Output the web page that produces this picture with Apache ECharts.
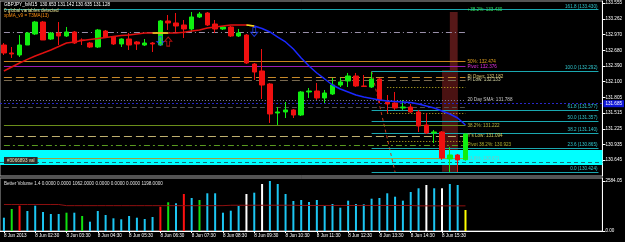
<!DOCTYPE html>
<html>
<head>
<meta charset="utf-8">
<script src="https://cdn.jsdelivr.net/npm/echarts@6.0.0/dist/echarts.min.js"></script>
<style>
html, body { margin: 0; padding: 0; background: #000; }
#chart { width: 625px; height: 242px; }
</style>
</head>
<body>
<div id="chart"></div>
<script>
// GBPJPY M15 bars, 8 Jun 01:30 .. 16:15
const opens = [
  132.777, 132.629, 132.592, 132.777, 132.981, 133.203, 132.888, 132.999, 132.944, 133.018,
  132.870, 132.814, 132.740, 133.036, 132.925, 132.796, 132.888, 132.833, 132.777, 132.814,
  132.777, 133.222, 133.185, 133.148, 133.074, 133.296, 133.370, 133.166, 133.074, 133.111,
  132.944, 132.962, 132.425, 132.296, 132.055, 131.518, 131.537, 131.574, 131.481, 131.907,
  131.925, 131.796, 131.870, 132.036, 132.111, 132.203, 132.018, 131.999, 132.148, 131.722,
  131.703, 131.611, 131.629, 131.537, 131.296, 131.148, 131.166, 130.666, 130.740, 130.653
];
const closes = [
  132.629, 132.611, 132.777, 132.999, 133.203, 132.870, 132.999, 132.944, 133.018, 132.814,
  132.860, 132.740, 133.055, 132.925, 132.796, 132.888, 132.777, 132.796, 132.814, 132.796,
  133.222, 133.185, 133.129, 133.074, 133.296, 133.351, 133.148, 133.074, 133.111, 132.944,
  132.999, 132.444, 132.277, 132.036, 131.500, 131.537, 131.574, 131.481, 131.907, 131.925,
  131.796, 131.888, 132.036, 132.092, 132.203, 132.018, 132.010, 132.148, 131.759, 131.685,
  131.611, 131.629, 131.537, 131.277, 131.148, 131.166, 130.685, 130.740, 130.648, 131.128
];
const lows = [
  132.592, 132.537, 132.555, 132.777, 132.962, 132.870, 132.870, 132.777, 132.925, 132.796,
  132.777, 132.722, 132.722, 132.906, 132.777, 132.740, 132.685, 132.685, 132.759, 132.648,
  132.759, 133.055, 133.018, 132.907, 133.018, 133.277, 133.129, 132.999, 133.055, 132.925,
  132.925, 132.425, 132.129, 131.777, 131.333, 131.296, 131.425, 131.425, 131.462, 131.796,
  131.759, 131.703, 131.851, 131.999, 131.999, 132.000, 131.999, 131.981, 131.703, 131.518,
  131.574, 131.574, 131.518, 131.166, 131.129, 130.962, 130.648, 130.425, 130.425, 130.635
];
const highs = [
  132.814, 132.740, 132.962, 133.018, 133.222, 133.222, 133.018, 133.203, 133.111, 133.036,
  132.900, 132.833, 133.074, 133.055, 132.944, 132.900, 132.999, 132.851, 132.888, 132.833,
  133.240, 133.333, 133.370, 133.240, 133.388, 133.388, 133.388, 133.240, 133.129, 133.129,
  133.074, 132.981, 132.444, 132.703, 132.074, 131.629, 131.722, 131.590, 131.925, 131.981,
  132.074, 131.944, 132.166, 132.166, 132.259, 132.259, 132.222, 132.277, 132.166, 131.851,
  131.907, 131.759, 131.685, 131.574, 131.518, 131.203, 131.185, 130.888, 130.759, 131.142
];
// xpMA (T3MA 13)
const maValues = [
  132.296, 132.370, 132.444, 132.510, 132.574, 132.629, 132.685, 132.750, 132.814, 132.833,
  132.860, 132.880, 132.897, 132.916, 132.935, 132.953, 132.962, 132.981, 132.999, 132.999,
  132.999, 132.999, 132.999, 133.012, 133.036, 133.055, 133.092, 133.110, 133.129, 133.148,
  133.148, 133.148, 133.129, 133.083, 133.018, 132.925, 132.833, 132.703, 132.537, 132.388,
  132.259, 132.148, 132.036, 131.962, 131.907, 131.851, 131.814, 131.787, 131.759, 131.740,
  131.731, 131.722, 131.712, 131.685, 131.648, 131.611, 131.555, 131.500, 131.425, 131.296
];
const maFlatBars = [19, 20, 21, 31, 32];
const maTurnBar = 32;
// Better Volume
const volumes = [
  688, 1137, 1308, 1034, 1308, 982, 879, 879, 946, 946,
  776, 481, 1034, 827, 657, 605, 776, 688, 620, 724,
  1256, 1484, 1432, 1913, 1706, 1603, 1949, 1949, 946, 1050,
  1293, 1913, 1980, 2430, 2584, 2430, 1913, 1551, 1603, 1499,
  1603, 1293, 1396, 1205, 1567, 1396, 1380, 1670, 1706, 1949,
  1773, 1567, 2016, 2208, 2378, 2208, 2208, 2430, 2378, 1086
];
// n normal, u climax up, c churn, d climax down, l low volume
const volKinds = [
  'n', 'c', 'u', 'n', 'n', 'n', 'n', 'n', 'c', 'n',
  'c', 'n', 'n', 'n', 'n', 'n', 'n', 'n', 'n', 'n',
  'u', 'c', 'n', 'u', 'n', 'c', 'n', 'n', 'n', 'n',
  'n', 'd', 'n', 'd', 'n', 'n', 'n', 'n', 'n', 'n',
  'n', 'n', 'n', 'n', 'n', 'n', 'n', 'n', 'n', 'n',
  'n', 'n', 'n', 'n', 'd', 'n', 'd', 'n', 'n', 'l'
];
const volAverage = [
  1370, 1370, 1370, 1370, 1370, 1370, 1370, 1370, 1310, 1310,
  1310, 1310, 1310, 1310, 1310, 1310, 1310, 1310, 1310, 1310,
  1310, 1310, 1310, 1310, 1310, 1310, 1310, 1310, 1310, 1330,
  1330, 1330, 1330, 1330, 1330, 1330, 1330, 1330, 1320, 1320,
  1320, 1320, 1320, 1320, 1320, 1320, 1320, 1320, 1320, 1320,
  1320, 1320, 1320, 1300, 1300, 1300, 1300, 1300, 1300, 1300
];

const priceTicks = [133.555, 133.262, 132.970, 132.680, 132.390, 132.100, 131.805, 131.515, 131.225, 130.935, 130.645, 130.350];
const volTicks = [2584.05, 0];
const timeTicks = [
  '8 Jun 2013', '8 Jun 02:30', '8 Jun 03:30', '8 Jun 04:30', '8 Jun 05:30', '8 Jun 06:30', '8 Jun 07:30',
  '8 Jun 08:30', '8 Jun 09:30', '8 Jun 10:30', '8 Jun 11:30', '8 Jun 12:30', '8 Jun 13:30', '8 Jun 14:30', '8 Jun 15:30'
];

// fibonacci retracement drawn from bar 47 to bar 50
const fibPrices = [133.430, 132.292, 131.577, 131.357, 131.140, 130.865, 130.424];
const fibTexts = ['161.8 (133.430)', '100.0 (132.292)', '61.8 (131.577)', '50.0 (131.357)', '38.2 (131.140)', '23.6 (130.865)', '0.0 (130.424)'];
// daily levels ending at the last bar
const levelPrices = [133.430, 133.018, 132.474, 132.376, 132.182, 132.133, 131.759, 131.629, 131.287, 131.094, 130.923, 130.671];
const levelTexts = ['+38.2%: 133.430', '', '50%: 132.474', 'Pivot: 132.376', 'Pi Open: 132.182', 'Pi Low: 132.133',
  '20 Day SMA: 131.788', '', '38.2%: 131.222', "Y's Low: 131.094", 'Pivot 38.2%: 130.923', '61.8%: 130.671'];
const dotPrices = [131.999, 131.518, 131.000];
const zonePrices = [130.833, 130.555];
const smaLinePrice = 131.685;
const lowerDashPrice = 130.611;
const bidPrice = 131.128;
const boxPrices = [[133.388, 130.425], [132.314, 130.43]];
const arrowsDown = [[20, 132.85], [32, 133.018]];
const arrowsUp = [[21, 132.84]];

const SLOTS = 77;
const cats = [];
for (let i = 0; i < SLOTS; i++) {
  const m = 90 + i * 15;
  cats.push(String(Math.floor(m / 60)).padStart(2, '0') + ':' + String(m % 60).padStart(2, '0'));
}
const LAST = opens.length - 1;
const FONT = 'Liberation Sans';
const FS = 4.6;

const candles = opens.map((o, i) => [o, closes[i], lows[i], highs[i]]);
const maRed = maValues.map((v, i) => (i <= maTurnBar ? v : null));
const maBlue = maValues.map((v, i) => (i >= maTurnBar ? v : null));
const maYellow = maValues.map((v, i) => (maFlatBars.includes(i) ? v : null));
const volColors = { n: '#1cc6f2', u: '#ff1010', c: '#10e010', d: '#ffffff', l: '#ffff00' };
const volData = volumes.map((v, i) => ({ value: v, itemStyle: { color: volColors[volKinds[i]] } }));

// styles of the level lines, same order as levelPrices
const levelStyles = [
  { c: 'rgba(0,0,0,0)', t: 'solid', tc: '#30e060' },
  { c: '#9a90aa', t: [6, 3, 1, 3], tc: '#fff' },
  { c: '#c8841c', t: 'solid', tc: '#e0a020' },
  { c: '#9a1cb0', t: 'solid', tc: '#e030e0' },
  { c: '#c88a2a', t: [8, 4], tc: '#d8c870' },
  { c: '#7a6a50', t: [8, 4], tc: '#d0d0a0' },
  { c: '#8080a8', t: [1, 2], tc: '#c8c8c8' },
  { c: '#505050', t: [5, 3], tc: '#fff' },
  { c: '#6a8e1a', t: 'solid', tc: '#b8b840' },
  { c: '#c0b070', t: [8, 4], tc: '#d0d060' },
  { c: '#5a9a20', t: [6, 3, 2, 3], tc: '#b0b030' },
  { c: '#a0a040', t: 'solid', tc: '#80c0c0' }
];

const levelLines = levelPrices.map((p, i) => {
  const s = levelStyles[i];
  return [
    {
      coord: [0, p],
      lineStyle: { color: s.c, type: s.t, width: 1 },
      label: {
        show: levelTexts[i] !== '',
        position: 'end',
        distance: 2,
        padding: [6, 0, 0, 0],
        formatter: levelTexts[i],
        color: s.tc,
        fontSize: FS,
        fontFamily: FONT
      }
    },
    { coord: [LAST, p] }
  ];
});
// the 161.8 level runs across the whole chart, the others start at the swing bar
const fibLines = fibPrices.map((p, i) => [
  {
    coord: [i === 0 ? 0 : 47, p],
    lineStyle: { color: '#1aa8b0', type: 'solid', width: 1 },
    label: { show: true, position: 'insideEndTop', distance: 1, formatter: fibTexts[i], color: '#30c8d0', fontSize: FS, fontFamily: FONT }
  },
  { coord: [SLOTS - 1, p] }
]);
const dotLines = dotPrices.map(p => [
  { coord: [49, p], lineStyle: { color: '#c8b820', type: [1, 2], width: 1 }, label: { show: false } },
  { coord: [LAST, p] }
]);

const arrowPath = 'path://M3,0 L7,0 L7,6 L10,6 L5,11 L0,6 L3,6 Z';

const option = {
  backgroundColor: '#000',
  animation: false,
  title: [
    { text: 'GBPJPY_fxM15  130.653 131.142 130.635 131.128', left: 4, top: 2, padding: 0,
      textStyle: { color: '#ffffff', fontSize: FS, fontWeight: 'normal', fontFamily: FONT } },
    { text: '0 global variables detected', left: 4, top: 8, padding: 0,
      textStyle: { color: '#e8e090', fontSize: FS, fontWeight: 'normal', fontFamily: FONT } },
    { text: 'xpMA_v9 = T3MA(13)', left: 4, top: 13, padding: 0,
      textStyle: { color: '#ff9010', fontSize: FS, fontWeight: 'normal', fontFamily: FONT } },
    { text: 'Better Volume 1.4 0.0000 0.0000 1062.0000 0.0000 0.0000 0.0000 1198.0000', left: 4, top: 181, padding: 0,
      textStyle: { color: '#e0e0e0', fontSize: FS, fontWeight: 'normal', fontFamily: FONT } }
  ],
  graphic: [
    { type: 'text', left: 4, top: 157, z: 50,
      style: { text: '#3066893 val', fill: '#e8e0b0', font: FS + 'px ' + FONT, backgroundColor: '#2a2a2a', padding: [1, 3] } }
  ],
  grid: [
    { left: 0, right: 21, top: 1, height: 175, show: true, borderColor: '#a8a8a8', borderWidth: 1, backgroundColor: '#000' },
    { left: 0, right: 21, top: 178, height: 53, show: true, borderColor: '#a8a8a8', borderWidth: 1, backgroundColor: '#000' }
  ],
  xAxis: [
    { type: 'category', data: cats, gridIndex: 0, boundaryGap: true,
      axisLine: { show: false }, axisTick: { show: false }, axisLabel: { show: false }, splitLine: { show: false } },
    { type: 'category', data: cats, gridIndex: 1, boundaryGap: true,
      axisLine: { show: true, lineStyle: { color: '#ffffff', width: 1 } },
      axisTick: { show: true, alignWithLabel: true, length: 2, lineStyle: { color: '#fff' },
        interval: (i) => i % 4 === 0 && i <= LAST },
      axisLabel: { color: '#ffffff', fontSize: FS, fontFamily: FONT, align: 'left', margin: 2,
        interval: (i) => i % 4 === 0 && i <= LAST,
        formatter: (v, i) => (i % 4 === 0 && i <= LAST ? timeTicks[i / 4] : '') },
      splitLine: { show: false } }
  ],
  yAxis: [
    { type: 'value', gridIndex: 0, position: 'right', min: 130.351, max: 133.592, scale: true,
      axisLine: { show: true, lineStyle: { color: '#ffffff' } },
      axisTick: { show: true, length: 3, inside: false, customValues: priceTicks, lineStyle: { color: '#fff' } },
      axisLabel: { color: '#ffffff', fontSize: FS, fontFamily: FONT, margin: 3, customValues: priceTicks,
        formatter: v => v.toFixed(3) },
      splitLine: { show: false } },
    { type: 'value', gridIndex: 1, position: 'right', min: 0, max: 2739,
      axisLine: { show: true, lineStyle: { color: '#ffffff' } },
      axisTick: { show: true, length: 3, customValues: volTicks, lineStyle: { color: '#fff' } },
      axisLabel: { color: '#ffffff', fontSize: FS, fontFamily: FONT, margin: 3, customValues: volTicks,
        formatter: v => v.toFixed(2) },
      splitLine: { show: false } }
  ],
  series: [
    {
      name: 'boxes', type: 'line', data: [], xAxisIndex: 0, yAxisIndex: 0, z: 1,
      markArea: {
        silent: true,
        itemStyle: { color: '#4e1616' },
        data: boxPrices.map((b, i) => [
          { coord: [i === 0 ? 57 : 56, b[0]], itemStyle: { color: i === 0 ? '#561818' : '#4a1212' } },
          { coord: [58, b[1]] }
        ])
      }
    },
    {
      name: 'zone', type: 'line', data: [], xAxisIndex: 0, yAxisIndex: 0, z: 2,
      markArea: {
        silent: true,
        itemStyle: { color: '#00ffff' },
        data: [[{ yAxis: zonePrices[0] }, { yAxis: zonePrices[1] }]]
      }
    },
    {
      name: 'levels', type: 'line', data: [], xAxisIndex: 0, yAxisIndex: 0, z: 3,
      markLine: {
        silent: true, symbol: ['none', 'none'], animation: false,
        data: [
          ...levelLines,
          ...fibLines,
          ...dotLines,
          { yAxis: smaLinePrice, lineStyle: { color: '#2828c8', type: [2, 2], width: 1 },
            label: { show: true, position: 'end', distance: 1, formatter: smaLinePrice.toFixed(3), color: '#fff',
              backgroundColor: '#1018d8', padding: [1, 2], fontSize: FS, fontFamily: FONT } },
          { yAxis: lowerDashPrice, lineStyle: { color: '#1a6a78', type: [4, 3], width: 1 }, label: { show: false } },
          { yAxis: bidPrice, lineStyle: { opacity: 0 },
            label: { show: true, position: 'end', distance: 1, formatter: bidPrice.toFixed(3), color: '#000',
              backgroundColor: '#ffffff', padding: [1, 2], fontSize: FS, fontFamily: FONT } }
        ]
      }
    },
    {
      name: 'fibline', type: 'line', xAxisIndex: 0, yAxisIndex: 0, z: 4, symbol: 'none',
      data: [[47, fibPrices[1]], [50, fibPrices[6]]],
      lineStyle: { color: '#c83a1e', type: [3, 3], width: 1 }
    },
    {
      name: 'price', type: 'candlestick', xAxisIndex: 0, yAxisIndex: 0, z: 6,
      data: candles, barWidth: 5,
      itemStyle: { color: '#10ee10', color0: '#f01010', borderColor: '#10ee10', borderColor0: '#f01010', borderWidth: 1 }
    },
    { name: 'ma up', type: 'line', data: maRed, xAxisIndex: 0, yAxisIndex: 0, z: 7, symbol: 'none',
      lineStyle: { color: '#e01010', width: 1.5 } },
    { name: 'ma down', type: 'line', data: maBlue, xAxisIndex: 0, yAxisIndex: 0, z: 7, symbol: 'none',
      lineStyle: { color: '#1a28ff', width: 1.5 } },
    { name: 'ma flat', type: 'line', data: maYellow, xAxisIndex: 0, yAxisIndex: 0, z: 8, symbol: 'none',
      lineStyle: { color: '#e8e020', width: 1.5 } },
    { name: 'sig down', type: 'scatter', data: arrowsDown, xAxisIndex: 0, yAxisIndex: 0, z: 9,
      symbol: arrowPath, symbolSize: [7, 9],
      itemStyle: { color: 'rgba(0,0,0,0)', borderColor: '#2040ff', borderWidth: 1 } },
    { name: 'sig up', type: 'scatter', data: arrowsUp, xAxisIndex: 0, yAxisIndex: 0, z: 9,
      symbol: arrowPath, symbolSize: [7, 9], symbolRotate: 180,
      itemStyle: { color: 'rgba(0,0,0,0)', borderColor: '#e01010', borderWidth: 1 } },
    { name: 'volume', type: 'bar', data: volData, xAxisIndex: 1, yAxisIndex: 1, barWidth: 2, z: 3 },
    { name: 'vol avg', type: 'line', data: volAverage, xAxisIndex: 1, yAxisIndex: 1, z: 4, symbol: 'none',
      lineStyle: { color: '#8e1010', width: 1 } }
  ]
};

const chart = echarts.init(document.getElementById('chart'));
chart.setOption(option);
</script>
</body>
</html>
